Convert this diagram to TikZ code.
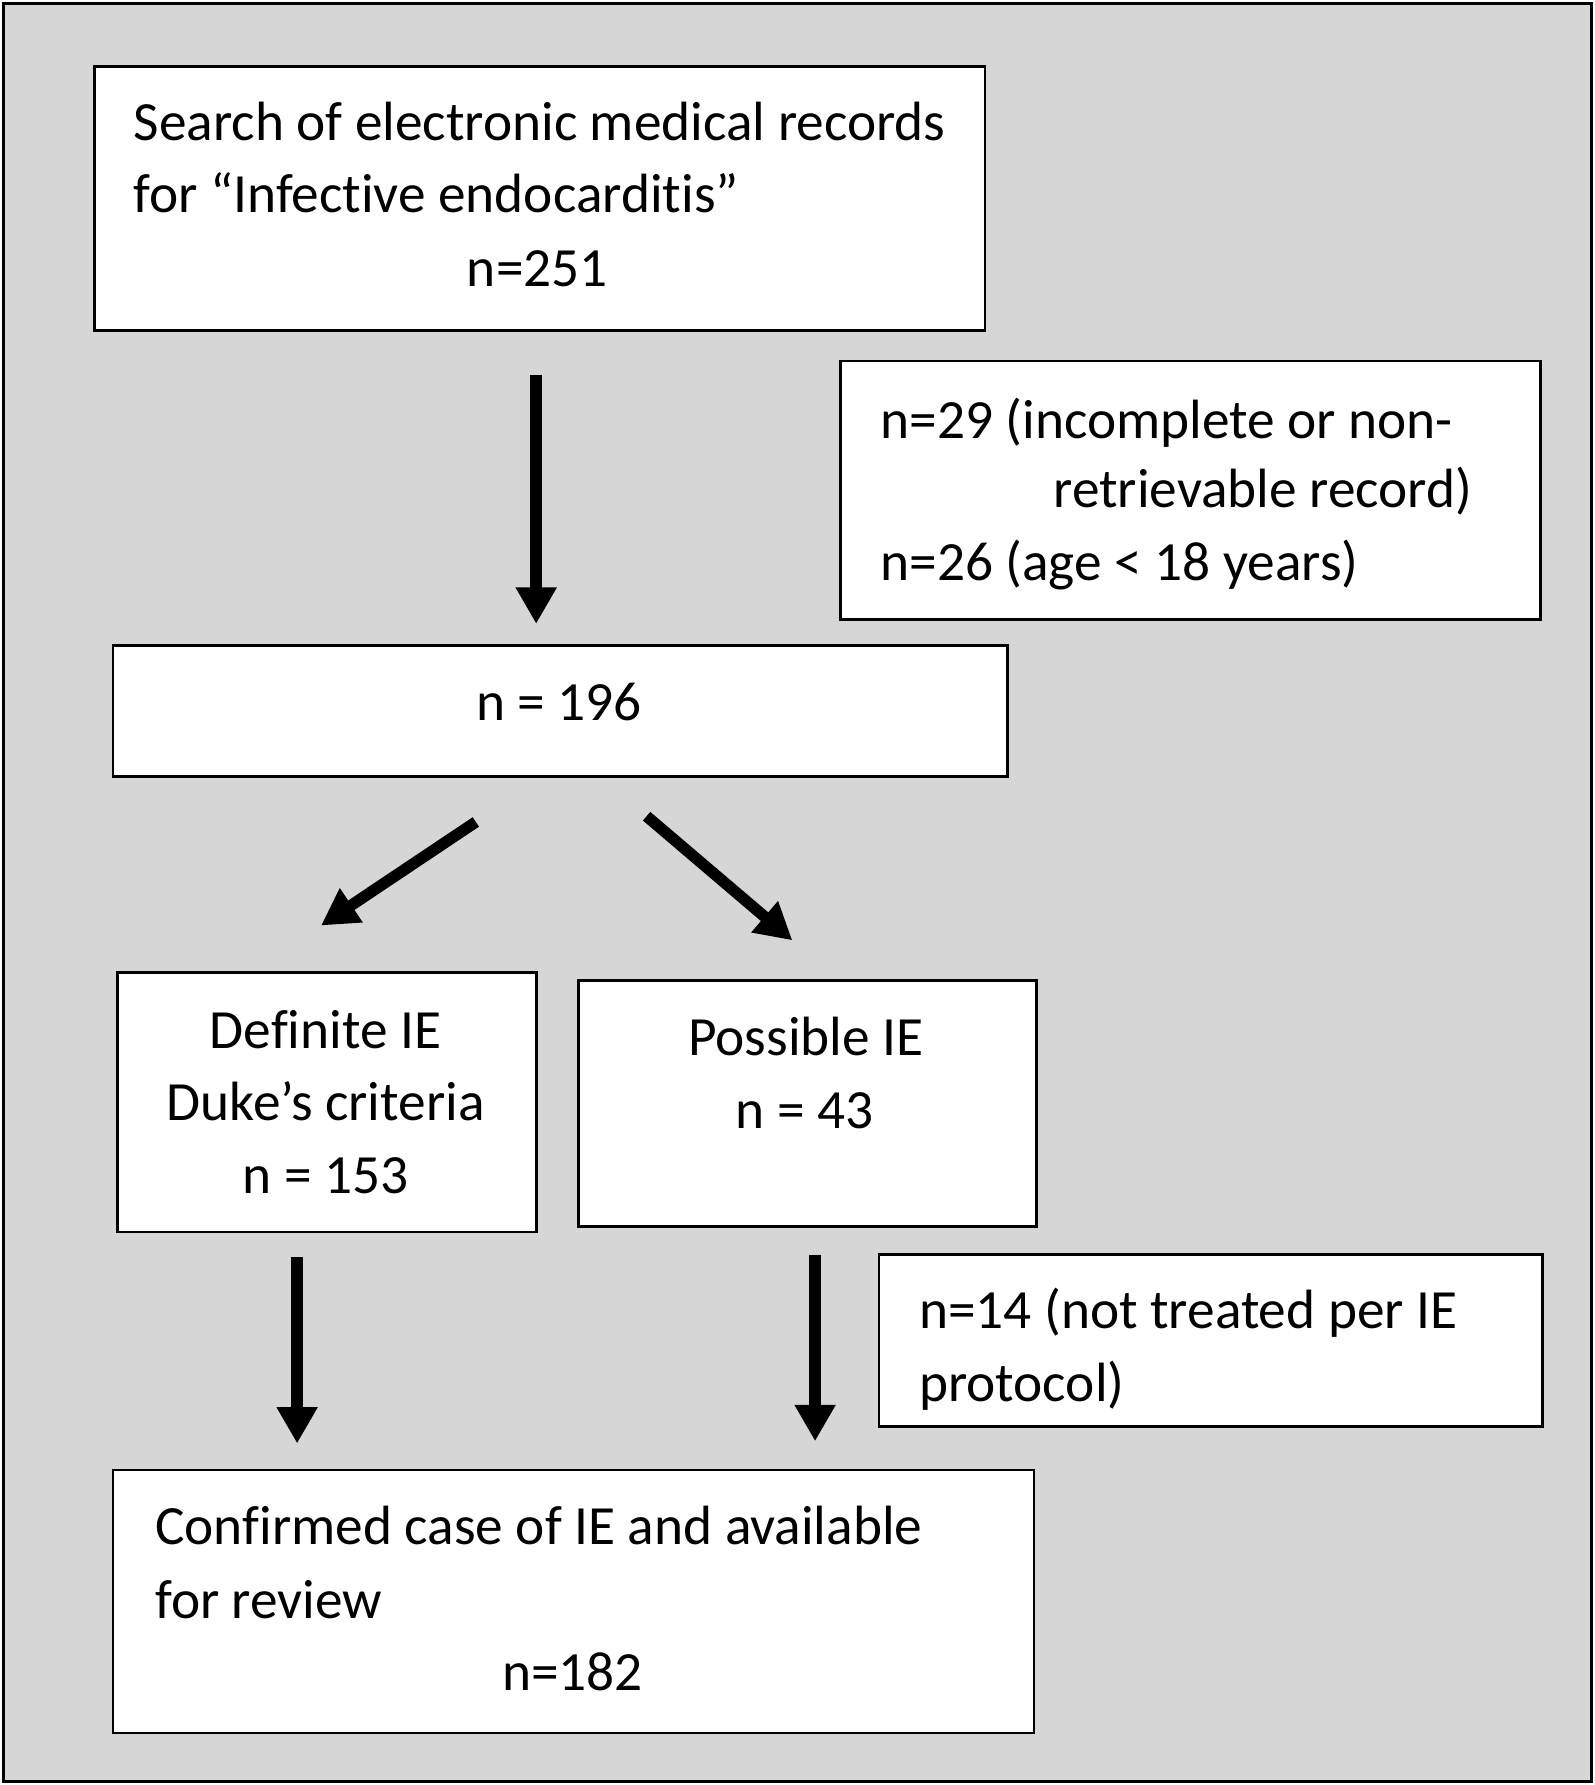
\documentclass[tikz,border=0pt]{standalone}
\usepackage{fontspec}
\setmainfont{Carlito}[Ligatures=NoCommon]
\usetikzlibrary{arrows.meta}
\begin{document}
\begin{tikzpicture}[x=0.5pt,y=-0.5pt,
  frame/.style={draw=black,line width=1.5pt,fill=bggray},
  boxnode/.style={draw=black,line width=1.2pt,fill=white,inner sep=0pt,anchor=north west},
  txt/.style={inner sep=0pt,font=\fontsize{24.3}{32}\selectfont},
  bigarrow/.style={line width=5pt,-{Triangle[length=16pt,width=17pt]}}]
\definecolor{bggray}{gray}{0.84}
\useasboundingbox (0,0) rectangle (1401,1568);
\fill[white] (0,0) rectangle (1401,1568);
\draw[frame] (3,3) rectangle (1398,1565);
% boxes
\node[boxnode,minimum width=391pt,minimum height=116pt] (b1) at (82,57) {};
\node[boxnode,minimum width=307.5pt,minimum height=113.5pt] (b2) at (737,316) {};
\node[boxnode,minimum width=393pt,minimum height=57.5pt] (b3) at (98,566) {};
\node[boxnode,minimum width=184pt,minimum height=114pt] (b4) at (102,853) {};
\node[boxnode,minimum width=201pt,minimum height=108pt] (b5) at (507,860) {};
\node[boxnode,minimum width=291.5pt,minimum height=75.5pt] (b6) at (771,1101) {};
\node[boxnode,minimum width=404.5pt,minimum height=115.5pt] (b7) at (98,1290) {};
% texts
\node[txt,anchor=base west] (t1a) at (117,123) {Search of electronic medical records};
\node[txt,anchor=base west] (t1b) at (117,187) {for “Infective endocarditis”};
\node[txt,anchor=base] (t1c) at (472,252) {n=251};
\node[txt,anchor=base west] (t2a) at (773,385) {n=29 (incomplete or non-};
\node[txt,anchor=base west] (t2b) at (925,446) {retrievable record)};
\node[txt,anchor=base west] (t2c) at (773,510) {n=26 (age < 18 years)};
\node[txt,anchor=base] (t3) at (491,633) {n = 196};
\node[txt,anchor=base] (t4a) at (286,921) {Definite IE};
\node[txt,anchor=base] (t4b) at (286,984) {Duke’s criteria};
\node[txt,anchor=base] (t4c) at (286,1048) {n = 153};
\node[txt,anchor=base] (t5a) at (708,927) {Possible IE};
\node[txt,anchor=base] (t5b) at (707,991) {n = 43};
\node[txt,anchor=base west] (t6a) at (807,1167) {n=14 (not treated per IE};
\node[txt,anchor=base west] (t6b) at (807,1231) {protocol)};
\node[txt,anchor=base west] (t7a) at (136,1357) {Confirmed case of IE and available};
\node[txt,anchor=base west] (t7b) at (136,1422) {for review};
\node[txt,anchor=base] (t7c) at (503,1485) {n=182};
% arrow ends
\coordinate (a1s) at (471,329);
\coordinate (a1e) at (471,548);
\coordinate (a2s) at (418,722);
\coordinate (a2e) at (282,813);
\coordinate (a3s) at (568,717);
\coordinate (a3e) at (696,826);
\coordinate (a4s) at (261,1104);
\coordinate (a4e) at (261,1268);
\coordinate (a5s) at (716,1102);
\coordinate (a5e) at (716,1266);
\draw[bigarrow] (a1s) -- (a1e);
\draw[bigarrow] (a2s) -- (a2e);
\draw[bigarrow] (a3s) -- (a3e);
\draw[bigarrow] (a4s) -- (a4e);
\draw[bigarrow] (a5s) -- (a5e);
\end{tikzpicture}
\end{document}
